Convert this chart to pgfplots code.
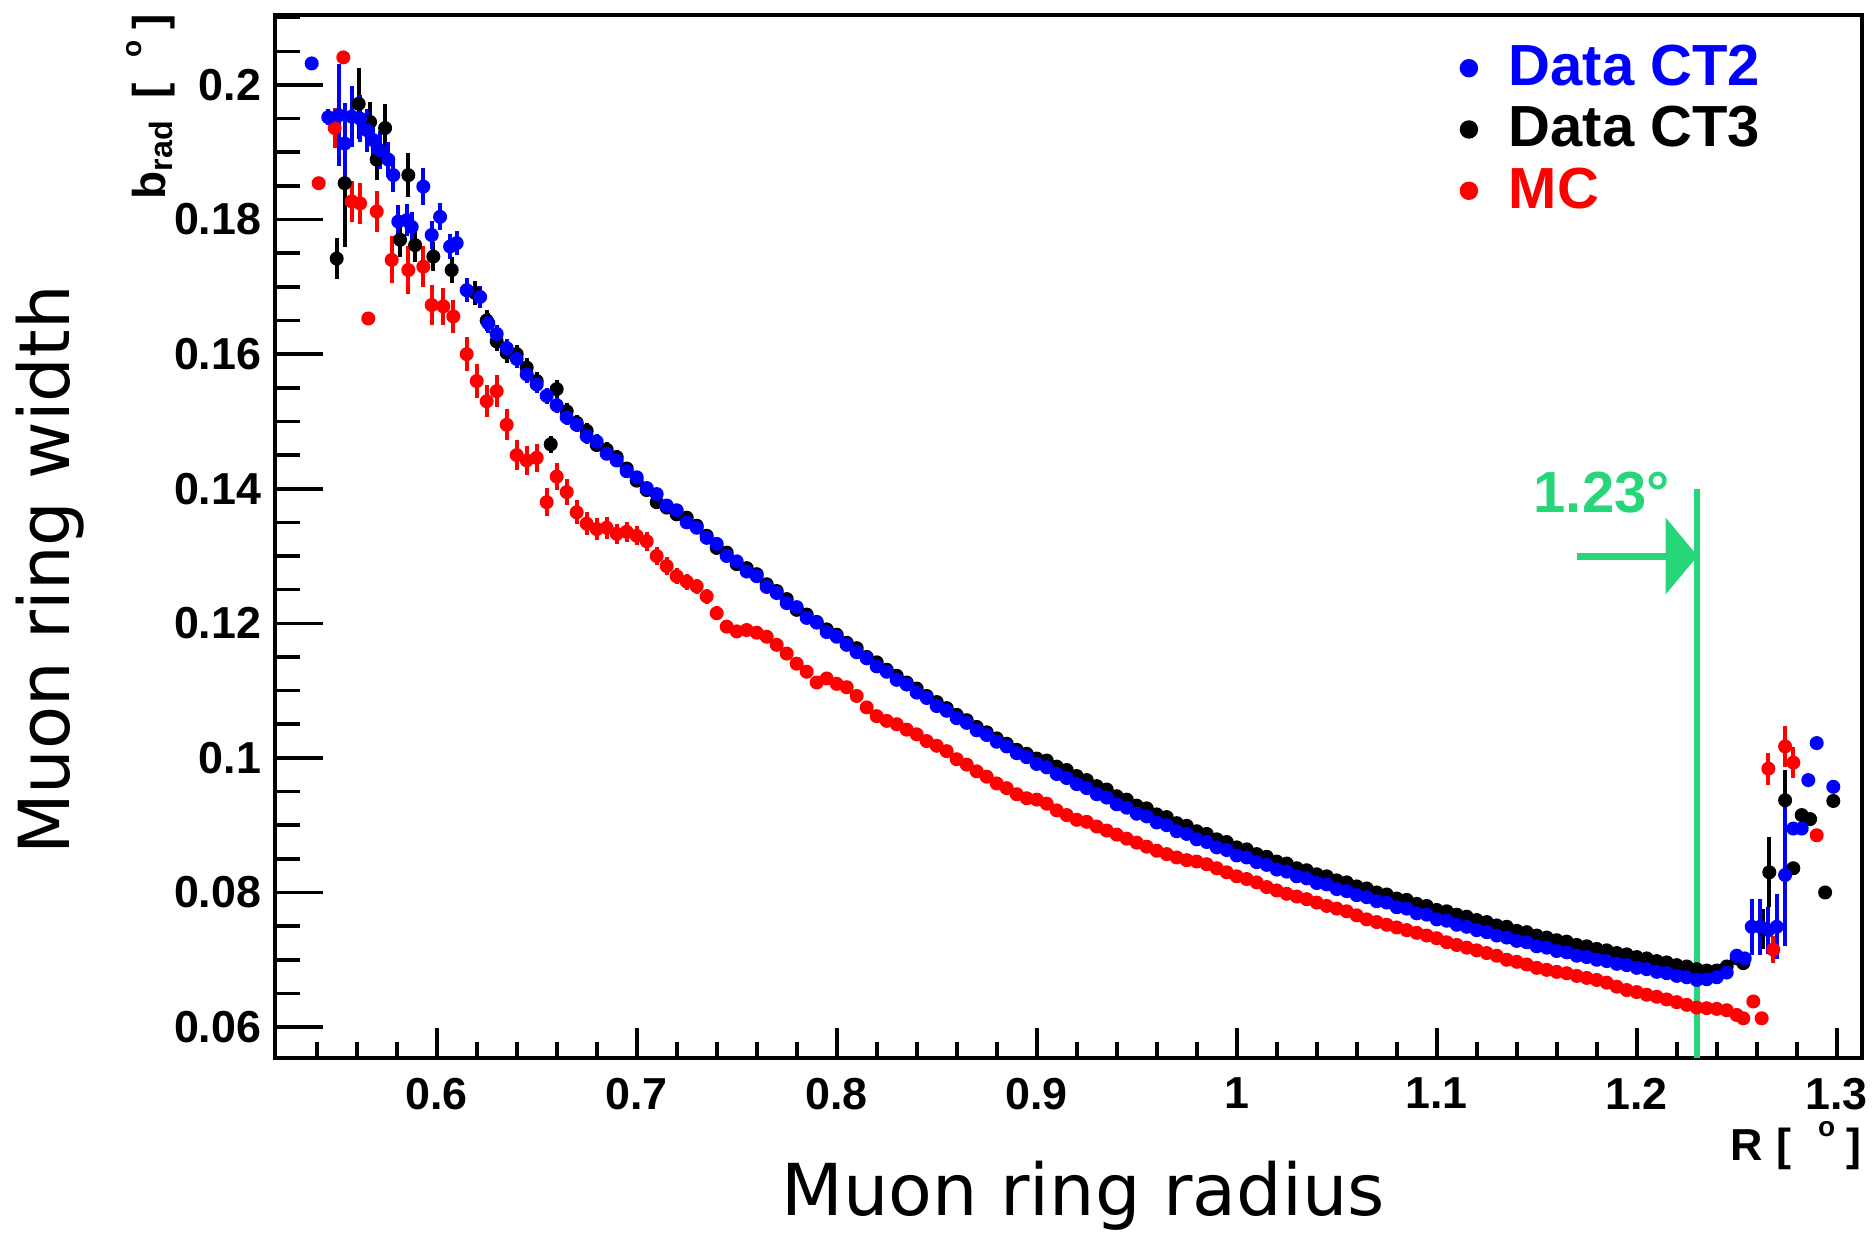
\documentclass[border=0pt]{standalone}
\usepackage{pgfplots}
\pgfplotsset{compat=1.18}
\usepackage{pgfplotstable}
\usepackage{fontspec}
\setmainfont{Liberation Sans}
\newfontfamily\dejavu{DejaVu Sans}
\usetikzlibrary{arrows.meta}
\definecolor{rootblue}{RGB}{0,0,255}
\definecolor{rootred}{RGB}{255,0,0}
\definecolor{lgreen}{RGB}{40,214,122}

\pgfplotstableread{
x y e
0.5375 0.2032 0
0.5458 0.1952 0.0012
0.5510 0.1955 0.0076
0.5540 0.1913 0.0060
0.5575 0.1953 0.0045
0.5617 0.1950 0.0035
0.5650 0.1933 0.0032
0.5683 0.1918 0.0030
0.5717 0.1903 0.0028
0.5758 0.1889 0.0026
0.5783 0.1866 0.0025
0.5808 0.1797 0.0025
0.5850 0.1799 0.0024
0.5875 0.1789 0.0022
0.5933 0.1849 0.0027
0.5975 0.1777 0.0021
0.6017 0.1804 0.0020
0.6067 0.1760 0.0019
0.6100 0.1765 0.0018
0.6150 0.1695 0.0018
0.6217 0.1685 0.0016
0.6258 0.1646 0.0015
0.630 0.1630 0.0014
0.635 0.1609 0.0014
0.640 0.1593 0.0013
0.645 0.1570 0.0013
0.650 0.1555 0.0013
0.655 0.1538 0.0012
0.660 0.1524 0.0012
0.665 0.1506 0.0012
0.670 0.1495 0.0011
0.675 0.1478 0.0011
0.680 0.1470 0.0011
0.685 0.1452 0.0010
0.690 0.1442 0.0010
0.695 0.1426 0.0010
0.700 0.1417 0.0009
0.705 0.1401 0.0009
0.710 0.1392 0.0009
0.715 0.1375 0.0008
0.720 0.1368 0.0008
0.725 0.1350 0.0008
0.730 0.1342 0.0008
0.735 0.1327 0.0007
0.740 0.1318 0.0007
0.745 0.1300 0.0007
0.750 0.1292 0.0007
0.755 0.1277 0.0006
0.760 0.1270 0.0006
0.765 0.1254 0.0006
0.770 0.1245 0.0006
0.775 0.1230 0.0006
0.780 0.1224 0.0005
0.785 0.1208 0.0005
0.790 0.1201 0.0005
0.795 0.1187 0.0005
0.800 0.1180 0.0005
0.805 0.1168 0.0004
0.810 0.1157 0.0004
0.815 0.1148 0.0004
0.820 0.1136 0.0004
0.825 0.1128 0.0004
0.830 0.1116 0.0004
0.835 0.1109 0.0004
0.840 0.1097 0.0004
0.845 0.1089 0.0004
0.850 0.1077 0.0004
0.855 0.1070 0.0004
0.860 0.1059 0.0004
0.865 0.1052 0.0004
0.870 0.1041 0.0004
0.875 0.1034 0.0004
0.880 0.1024 0.0004
0.885 0.1017 0.0004
0.890 0.1007 0.0004
0.895 0.1001 0.0004
0.900 0.0991 0.0004
0.905 0.0986 0.0004
0.910 0.0976 0.0004
0.915 0.0970 0.0004
0.920 0.0961 0.0004
0.925 0.0955 0.0004
0.930 0.0946 0.0004
0.935 0.0941 0.0004
0.940 0.0931 0.0004
0.945 0.0926 0.0004
0.950 0.0917 0.0004
0.955 0.0913 0.0004
0.960 0.0904 0.0004
0.965 0.0900 0.0004
0.970 0.0891 0.0004
0.975 0.0887 0.0004
0.980 0.0879 0.0004
0.985 0.0875 0.0004
0.990 0.0867 0.0004
0.995 0.0863 0.0004
1.000 0.0855 0.0004
1.005 0.0852 0.0004
1.010 0.0845 0.0004
1.015 0.0841 0.0004
1.020 0.0834 0.0004
1.025 0.0831 0.0004
1.030 0.0824 0.0004
1.035 0.0821 0.0004
1.040 0.0814 0.0004
1.045 0.0812 0.0004
1.050 0.0805 0.0004
1.055 0.0802 0.0004
1.060 0.0796 0.0004
1.065 0.0793 0.0004
1.070 0.0787 0.0004
1.075 0.0785 0.0004
1.080 0.0778 0.0004
1.085 0.0776 0.0004
1.090 0.0769 0.0004
1.095 0.0767 0.0004
1.100 0.0760 0.0004
1.105 0.0758 0.0004
1.110 0.0752 0.0004
1.115 0.0749 0.0004
1.120 0.0744 0.0004
1.125 0.0741 0.0004
1.130 0.0736 0.0004
1.135 0.0733 0.0004
1.140 0.0728 0.0004
1.145 0.0726 0.0004
1.150 0.0720 0.0004
1.155 0.0718 0.0004
1.160 0.0713 0.0004
1.165 0.0711 0.0004
1.170 0.0706 0.0004
1.175 0.0704 0.0004
1.180 0.0700 0.0004
1.185 0.0698 0.0004
1.190 0.0694 0.0004
1.195 0.0692 0.0004
1.200 0.0688 0.0004
1.205 0.0686 0.0004
1.210 0.0682 0.0004
1.215 0.0680 0.0004
1.220 0.0676 0.0004
1.225 0.0674 0.0004
1.230 0.0670 0.0004
1.235 0.0671 0.0004
1.240 0.0674 0.0005
1.245 0.0681 0.0006
1.250 0.0706 0.0008
1.254 0.0702 0.0010
1.2575 0.0749 0.0042
1.2617 0.0749 0.0042
1.2658 0.0744 0.0035
1.2700 0.0749 0.0048
1.2742 0.0826 0.0105
1.2783 0.0895 0.0008
1.2825 0.0895 0.0008
1.2858 0.0967 0
1.2900 0.1022 0
1.2983 0.0957 0
}\tblue

\pgfplotstableread{
x y e
0.5500 0.1742 0.0030
0.5540 0.1854 0.0095
0.5610 0.1972 0.0053
0.5667 0.1945 0.0030
0.5700 0.1889 0.0030
0.5742 0.1936 0.0035
0.5817 0.1770 0.0025
0.5858 0.1866 0.0033
0.5892 0.1762 0.0025
0.5983 0.1745 0.0022
0.6075 0.1725 0.0020
0.6192 0.1691 0.0018
0.6250 0.1650 0.0016
0.630 0.1619 0.0015
0.635 0.1602 0.0015
0.640 0.1600 0.0014
0.645 0.1580 0.0014
0.650 0.1560 0.0014
0.657 0.1466 0.0013
0.660 0.1548 0.0013
0.665 0.1515 0.0012
0.670 0.1498 0.0012
0.675 0.1486 0.0012
0.680 0.1465 0.0011
0.685 0.1458 0.0011
0.690 0.1447 0.0011
0.695 0.1430 0.0010
0.700 0.1412 0.0010
0.705 0.1398 0.0009
0.710 0.1380 0.0009
0.715 0.1372 0.0009
0.720 0.1362 0.0008
0.725 0.1357 0.0008
0.730 0.1345 0.0008
0.735 0.1330 0.0008
0.740 0.1312 0.0007
0.745 0.1305 0.0007
0.750 0.1288 0.0007
0.755 0.1282 0.0007
0.760 0.1273 0.0006
0.765 0.1258 0.0006
0.770 0.1248 0.0006
0.775 0.1236 0.0006
0.780 0.1220 0.0005
0.785 0.1213 0.0005
0.790 0.1202 0.0005
0.795 0.1191 0.0005
0.800 0.1183 0.0005
0.805 0.1171 0.0004
0.810 0.1163 0.0004
0.815 0.1150 0.0004
0.820 0.1142 0.0004
0.825 0.1131 0.0004
0.830 0.1122 0.0004
0.835 0.1112 0.0004
0.840 0.1103 0.0004
0.845 0.1092 0.0004
0.850 0.1083 0.0004
0.855 0.1074 0.0004
0.860 0.1064 0.0004
0.865 0.1056 0.0004
0.870 0.1046 0.0004
0.875 0.1038 0.0004
0.880 0.1029 0.0004
0.885 0.1021 0.0004
0.890 0.1012 0.0004
0.895 0.1006 0.0004
0.900 0.0999 0.0004
0.905 0.0996 0.0004
0.910 0.0987 0.0004
0.915 0.0982 0.0004
0.920 0.0973 0.0004
0.925 0.0967 0.0004
0.930 0.0958 0.0004
0.935 0.0953 0.0004
0.940 0.0943 0.0004
0.945 0.0938 0.0004
0.950 0.0929 0.0004
0.955 0.0925 0.0004
0.960 0.0916 0.0004
0.965 0.0912 0.0004
0.970 0.0903 0.0004
0.975 0.0899 0.0004
0.980 0.0891 0.0004
0.985 0.0887 0.0004
0.990 0.0879 0.0004
0.995 0.0875 0.0004
1.000 0.0867 0.0004
1.005 0.0864 0.0004
1.010 0.0857 0.0004
1.015 0.0853 0.0004
1.020 0.0846 0.0004
1.025 0.0843 0.0004
1.030 0.0836 0.0004
1.035 0.0833 0.0004
1.040 0.0827 0.0004
1.045 0.0824 0.0004
1.050 0.0818 0.0004
1.055 0.0815 0.0004
1.060 0.0809 0.0004
1.065 0.0806 0.0004
1.070 0.0800 0.0004
1.075 0.0797 0.0004
1.080 0.0791 0.0004
1.085 0.0789 0.0004
1.090 0.0783 0.0004
1.095 0.0780 0.0004
1.100 0.0774 0.0004
1.105 0.0772 0.0004
1.110 0.0767 0.0004
1.115 0.0764 0.0004
1.120 0.0759 0.0004
1.125 0.0756 0.0004
1.130 0.0751 0.0004
1.135 0.0749 0.0004
1.140 0.0743 0.0004
1.145 0.0741 0.0004
1.150 0.0736 0.0004
1.155 0.0733 0.0004
1.160 0.0729 0.0004
1.165 0.0727 0.0004
1.170 0.0722 0.0004
1.175 0.0720 0.0004
1.180 0.0716 0.0004
1.185 0.0714 0.0004
1.190 0.0710 0.0004
1.195 0.0708 0.0004
1.200 0.0704 0.0004
1.205 0.0702 0.0004
1.210 0.0698 0.0004
1.215 0.0696 0.0004
1.220 0.0692 0.0004
1.225 0.0690 0.0004
1.230 0.0686 0.0004
1.235 0.0684 0.0004
1.240 0.0684 0.0005
1.245 0.0690 0.0006
1.250 0.0702 0.0008
1.2533 0.0695 0.0010
1.2633 0.0746 0.0030
1.2663 0.0830 0.0052
1.2742 0.0937 0.0045
1.2783 0.0836 0
1.2825 0.0915 0
1.2867 0.0909 0
1.2942 0.0800 0
1.2983 0.0936 0
}\tblack

\pgfplotstableread{
x y e
0.5410 0.1854 0
0.5490 0.1936 0.0030
0.5533 0.2041 0
0.5575 0.1827 0.0030
0.5617 0.1824 0.0030
0.5658 0.1653 0
0.5700 0.1812 0.0030
0.5775 0.1740 0.0035
0.5858 0.1725 0.0035
0.5933 0.1730 0.0030
0.5975 0.1673 0.0030
0.6033 0.1671 0.0028
0.6083 0.1656 0.0025
0.6150 0.1600 0.0025
0.6200 0.1560 0.0025
0.6250 0.1530 0.0024
0.6300 0.1545 0.0024
0.6350 0.1495 0.0023
0.6400 0.1450 0.0022
0.6450 0.1442 0.0022
0.6500 0.1446 0.0021
0.6550 0.1380 0.0021
0.6600 0.1418 0.0020
0.6650 0.1395 0.0019
0.6700 0.1365 0.0018
0.6750 0.1348 0.0017
0.6800 0.1340 0.0016
0.6850 0.1342 0.0016
0.6900 0.1333 0.0015
0.6950 0.1336 0.0015
0.7000 0.1330 0.0014
0.7050 0.1322 0.0014
0.7100 0.1300 0.0013
0.7150 0.1285 0.0013
0.7200 0.1270 0.0012
0.7250 0.1262 0.0012
0.7300 0.1255 0.0011
0.7350 0.1240 0.0011
0.7400 0.1215 0.0010
0.7450 0.1195 0.0010
0.7500 0.1188 0.0010
0.7550 0.1190 0.0009
0.7600 0.1186 0.0009
0.7650 0.1180 0.0009
0.7700 0.1168 0.0008
0.7750 0.1155 0.0008
0.7800 0.1140 0.0008
0.7850 0.1128 0.0007
0.7900 0.1112 0.0007
0.7950 0.1118 0.0007
0.8000 0.1110 0.0006
0.805 0.1105 0.0005
0.810 0.1092 0.0005
0.815 0.1075 0.0005
0.820 0.1062 0.0005
0.825 0.1055 0.0005
0.830 0.1050 0.0005
0.835 0.1042 0.0005
0.840 0.1035 0.0005
0.845 0.1025 0.0005
0.850 0.1018 0.0005
0.855 0.1010 0.0005
0.860 0.0998 0.0005
0.865 0.0990 0.0005
0.870 0.0980 0.0005
0.875 0.0972 0.0005
0.880 0.0962 0.0005
0.885 0.0955 0.0005
0.890 0.0946 0.0005
0.895 0.0940 0.0005
0.900 0.0938 0.0005
0.905 0.0932 0.0005
0.910 0.0922 0.0005
0.915 0.0915 0.0005
0.920 0.0908 0.0005
0.925 0.0905 0.0005
0.930 0.0898 0.0005
0.935 0.0892 0.0005
0.940 0.0886 0.0005
0.945 0.0880 0.0005
0.950 0.0874 0.0005
0.955 0.0868 0.0005
0.960 0.0862 0.0005
0.965 0.0857 0.0005
0.970 0.0852 0.0005
0.975 0.0848 0.0005
0.980 0.0846 0.0005
0.985 0.0842 0.0005
0.990 0.0836 0.0005
0.995 0.0830 0.0005
1.000 0.0824 0.0005
1.005 0.0820 0.0005
1.010 0.0815 0.0005
1.015 0.0808 0.0005
1.020 0.0803 0.0005
1.025 0.0798 0.0005
1.030 0.0794 0.0005
1.035 0.0790 0.0005
1.040 0.0785 0.0005
1.045 0.0780 0.0005
1.050 0.0776 0.0005
1.055 0.0772 0.0005
1.060 0.0766 0.0005
1.065 0.0760 0.0005
1.070 0.0756 0.0005
1.075 0.0752 0.0005
1.080 0.0748 0.0005
1.085 0.0744 0.0005
1.090 0.0740 0.0005
1.095 0.0736 0.0005
1.100 0.0732 0.0005
1.105 0.0726 0.0005
1.110 0.0722 0.0005
1.115 0.0718 0.0005
1.120 0.0714 0.0005
1.125 0.0710 0.0005
1.130 0.0706 0.0005
1.135 0.0700 0.0005
1.140 0.0697 0.0005
1.145 0.0693 0.0005
1.150 0.0688 0.0005
1.155 0.0685 0.0005
1.160 0.0682 0.0005
1.165 0.0680 0.0005
1.170 0.0676 0.0005
1.175 0.0673 0.0005
1.180 0.0670 0.0005
1.185 0.0666 0.0005
1.190 0.0660 0.0005
1.195 0.0655 0.0005
1.200 0.0652 0.0005
1.205 0.0648 0.0005
1.210 0.0645 0.0005
1.215 0.0641 0.0005
1.220 0.0637 0.0005
1.225 0.0633 0.0005
1.230 0.0629 0.0005
1.235 0.0628 0.0005
1.240 0.0627 0.0005
1.245 0.0625 0.0005
1.250 0.0618 0.0005
1.2533 0.0613 0.0005
1.2583 0.0638 0
1.2625 0.0613 0
1.2658 0.0984 0.0024
1.2683 0.0715 0.0020
1.2742 0.1017 0.0030
1.2783 0.0993 0.0023
1.2900 0.0885 0
}\tred

\begin{document}
\begin{tikzpicture}
\useasboundingbox (-68.75pt,-43.5pt) rectangle (399.25pt,264.5pt);
% axis carrying the y ticks
\begin{axis}[
  at={(0pt,0pt)}, anchor=south west,
  scale only axis, width=396.75pt, height=260.75pt,
  xmin=0.51915, xmax=1.31265, ymin=0.0554, ymax=0.2104,
  axis line style={line width=1pt},
  xtick=\empty,
  ytick={0.06,0.08,0.10,0.12,0.14,0.16,0.18,0.20},
  yticklabels={0.06,0.08,0.1,0.12,0.14,0.16,0.18,0.2},
  minor ytick={0.065,0.07,0.075,0.085,0.09,0.095,0.105,0.11,0.115,0.125,0.13,0.135,0.145,0.15,0.155,0.165,0.17,0.175,0.185,0.19,0.195,0.205,0.21},
  tick pos=left, tick align=inside,
  major tick length=12pt, minor tick length=6.25pt,
  tick style={line width=0.9pt, black},
  scaled ticks=false,
  yticklabel style={inner sep=0pt, xshift=-3.25pt, font=\bfseries\fontsize{11.2}{11.2}\selectfont},
]
\end{axis}
% main axis with x ticks and data
\begin{axis}[
  at={(0pt,0pt)}, anchor=south west,
  scale only axis, width=396.75pt, height=260.75pt,
  xmin=0.51915, xmax=1.31265, ymin=0.0554, ymax=0.2104,
  axis line style={line width=1pt},
  ytick=\empty,
  xtick={0.6,0.7,0.8,0.9,1.0,1.1,1.2,1.3},
  xticklabels={0.6,0.7,0.8,0.9,1,1.1,1.2,1.3},
  minor xtick={0.54,0.56,0.58,0.62,0.64,0.66,0.68,0.72,0.74,0.76,0.78,0.82,0.84,0.86,0.88,0.92,0.94,0.96,0.98,1.02,1.04,1.06,1.08,1.12,1.14,1.16,1.18,1.22,1.24,1.26,1.28},
  tick pos=left, tick align=inside,
  major tick length=7.5pt, minor tick length=4pt,
  tick style={line width=0.9pt, black},
  scaled ticks=false,
  xticklabel style={inner sep=0pt, yshift=-4.75pt, font=\bfseries\fontsize{11.2}{11.2}\selectfont},
  legend style={draw=none, fill=none, at={(axis description cs:0.7465,0.9713)}, anchor=north west,
    inner sep=0pt, outer sep=0pt, row sep=3.7pt, nodes={inner sep=0pt},
    font=\bfseries\fontsize{14.5}{14.5}\selectfont,
    /tikz/every odd column/.append style={column sep=7.65pt}},
  legend cell align=left,
  legend image code/.code={\fill[#1] (0pt,0pt) circle (2.1pt);},
  reverse legend,
]
\addplot[rootred, only marks, mark=*, mark size=1.55pt,
  error bars/.cd, y dir=both, y explicit, error bar style={line width=1pt}, error mark=none]
  table[x index=0, y index=1, y error index=2] {\tred};
\addlegendentry{\textcolor{rootred}{MC}}
\addplot[black, only marks, mark=*, mark size=1.55pt,
  error bars/.cd, y dir=both, y explicit, error bar style={line width=1pt}, error mark=none]
  table[x index=0, y index=1, y error index=2] {\tblack};
\addlegendentry{\textcolor{black}{Data CT3}}
\addplot[rootblue, only marks, mark=*, mark size=1.55pt,
  error bars/.cd, y dir=both, y explicit, error bar style={line width=1pt}, error mark=none]
  table[x index=0, y index=1, y error index=2] {\tblue};
\addlegendentry{\textcolor{rootblue}{Data CT2}}
\draw[lgreen, line width=1.5pt] (axis cs:1.23,0.0554) -- (axis cs:1.23,0.14);
\draw[lgreen, line width=1.75pt, -{Triangle[length=8pt,width=18.75pt]}] (axis cs:1.17,0.1300) -- (axis cs:1.2305,0.1300);
\node[lgreen, anchor=base west, inner sep=0pt, font=\bfseries\fontsize{14.5}{14.5}\selectfont] at (axis cs:1.1481,0.13654) {1.23°};
\end{axis}
\node[anchor=base, inner sep=0pt, font=\dejavu\fontsize{17.9}{17.9}\selectfont] at (202pt,-39.25pt) {Muon ring radius};
\node[rotate=90, anchor=base, inner sep=0pt, font=\dejavu\fontsize{17.6}{17.6}\selectfont] at (-51.25pt,122pt) {Muon ring width};
\node[rotate=90, anchor=base east, inner sep=0pt, font=\bfseries\fontsize{11.5}{11.5}\selectfont] at (-27.5pt,261.25pt) {b\textsubscript{rad}\hspace{0.45em}[\hspace{0.55em}\raisebox{5.9pt}{\fontsize{7}{7}\selectfont o}\hspace{0.25em}]};
\node[anchor=base east, inner sep=0pt, font=\bfseries\fontsize{11.2}{11.2}\selectfont] at (396.75pt,-25.5pt) {R\hspace{0.3em}[\hspace{0.6em}\raisebox{5.9pt}{\fontsize{7}{7}\selectfont o}\hspace{0.25em}]};
\end{tikzpicture}
\end{document}
